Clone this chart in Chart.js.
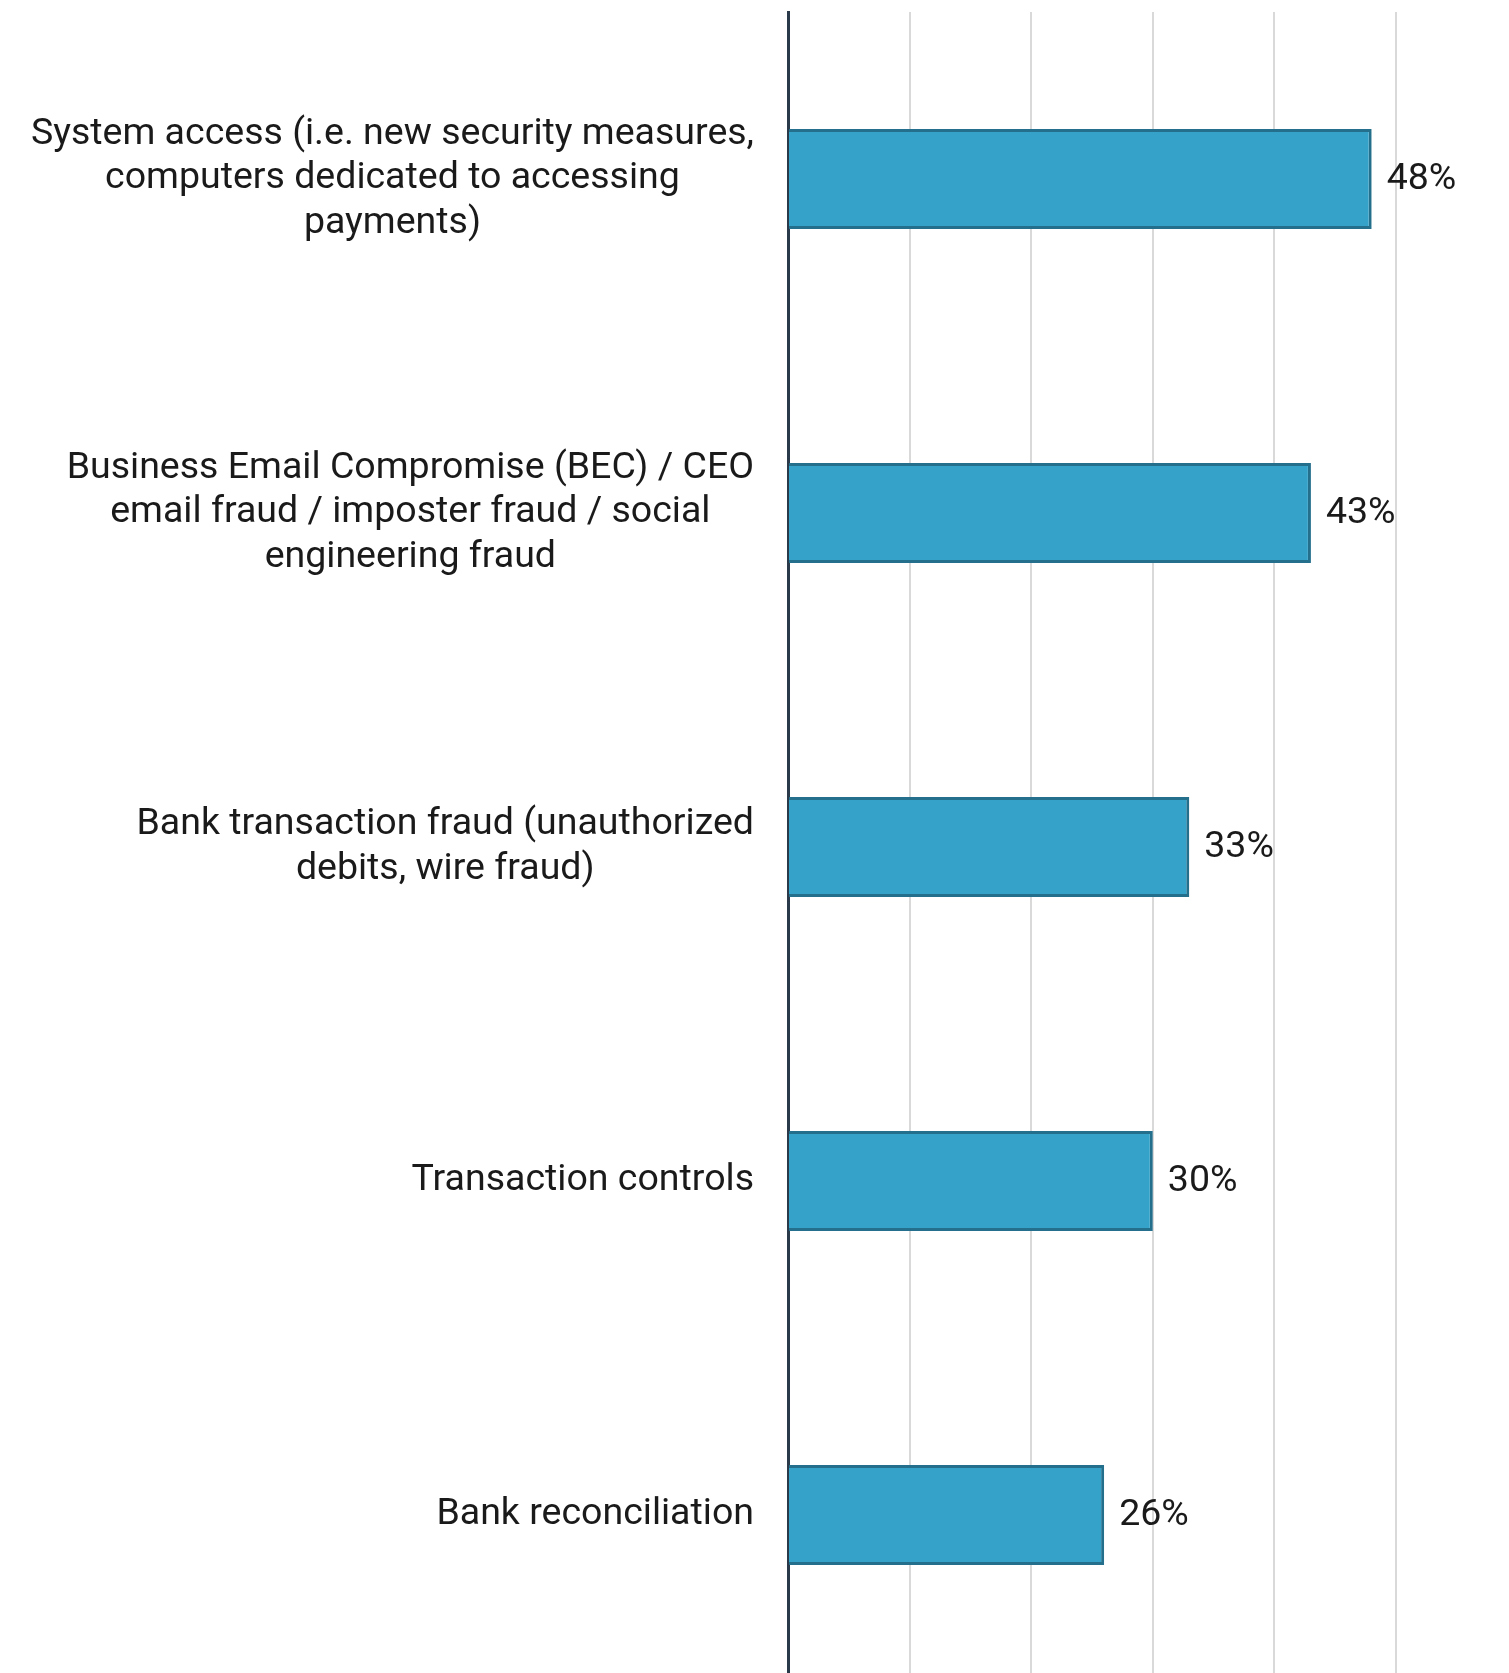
<!DOCTYPE html>
<html>
<head>
<meta charset="utf-8">
<script src="https://cdn.jsdelivr.net/npm/chart.js@4"></script>
<style>
  html, body { margin: 0; padding: 0; background: #fff; overflow: hidden; }
  canvas { display: block; }
</style>
</head>
<body>
<canvas id="fraud-chart" width="1509" height="1682"></canvas>
<script>
const categories = [
  ['System access (i.e. new security measures,', 'computers dedicated to accessing', 'payments)'],
  ['Business Email Compromise (BEC) / CEO', 'email fraud / imposter fraud / social', 'engineering fraud'],
  ['Bank transaction fraud (unauthorized', 'debits, wire fraud)'],
  ['Transaction controls'],
  ['Bank reconciliation'],
];
const values = [48, 43, 33, 30, 26];

const FONT = '37.5px Roboto';
const TEXT = '#1a1a1a';

// category labels: block right-aligned to the axis, lines centred inside the block
const categoryLabels = {
  id: 'categoryLabels',
  afterDraw(chart) {
    const { ctx, chartArea, scales } = chart;
    const lineH = 44.3;
    ctx.save();
    ctx.font = FONT;
    ctx.fillStyle = TEXT;
    ctx.textAlign = 'center';
    ctx.textBaseline = 'middle';
    categories.forEach((lines, i) => {
      const y = scales.y.getPixelForValue(i);
      const widest = Math.max(...lines.map(l => ctx.measureText(l).width));
      const cx = chartArea.left - 34 - widest / 2;
      const top = y - (lines.length - 1) * lineH / 2;
      lines.forEach((l, j) => ctx.fillText(l, cx, top + j * lineH));
    });
    ctx.restore();
  }
};

// percentage next to the end of each bar
const valueLabels = {
  id: 'valueLabels',
  afterDatasetsDraw(chart) {
    const { ctx } = chart;
    const meta = chart.getDatasetMeta(0);
    ctx.save();
    ctx.font = FONT;
    ctx.fillStyle = TEXT;
    ctx.textAlign = 'left';
    ctx.textBaseline = 'middle';
    meta.data.forEach((bar, i) => {
      ctx.fillText(values[i] + '%', bar.x + 15, bar.y + 1);
    });
    ctx.restore();
  }
};

new Chart(document.getElementById('fraud-chart'), {
  type: 'bar',
  data: {
    labels: categories.map(c => c.join(' ')),
    datasets: [{
      data: values,
      backgroundColor: '#35a2ca',
      borderColor: '#246f8c',
      borderWidth: 3,
      categoryPercentage: 1,
      barPercentage: 0.3,
    }]
  },
  options: {
    indexAxis: 'y',
    responsive: false,
    animation: false,
    layout: { padding: { left: 788, right: 113, top: 12, bottom: 0 } },
    plugins: {
      legend: { display: false },
      tooltip: { enabled: false },
    },
    scales: {
      x: {
        min: 0,
        max: 50,
        ticks: { display: false, stepSize: 10 },
        grid: { color: '#d9d9d9', lineWidth: 2, drawTicks: false },
        border: { display: false },
      },
      y: {
        ticks: { display: false },
        grid: { display: false, drawTicks: false },
        border: { display: true, color: '#2b3a4a', width: 3 },
      }
    }
  },
  plugins: [categoryLabels, valueLabels]
});
</script>
</body>
</html>
